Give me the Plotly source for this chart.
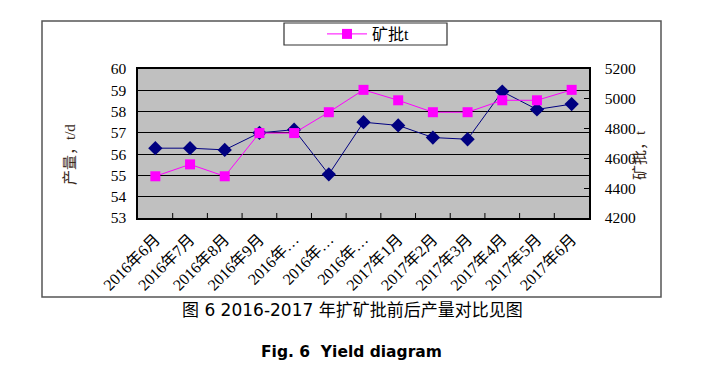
import plotly.graph_objects as go

months = ["2016年6月", "2016年7月", "2016年8月", "2016年9月", "2016年…", "2016年…", "2016年…",
          "2017年1月", "2017年2月", "2017年3月", "2017年4月", "2017年5月", "2017年6月"]
cat_ids = list(range(len(months)))
output_td = [56.28, 56.28, 56.2, 57.0, 57.15, 55.05, 57.5, 57.35, 56.78, 56.7, 58.94, 58.1, 58.35]
ore_batch_t = [4480, 4560, 4480, 4770, 4770, 4910, 5060, 4990, 4910, 4910, 4990, 4990, 5060]

left_ticks = [53, 54, 55, 56, 57, 58, 59, 60]
right_ticks = [4200, 4400, 4600, 4800, 5000, 5200]

SERIF = "Liberation Serif, Noto Sans CJK SC, serif"

# the page body adds an 8px margin; target pixel coordinates are given for the screenshot
OFF = 8
W, H = 710, 375
# plot area in screenshot pixels: x 138..589, y 69..218
L, R, T, B = 138 - OFF, 589 - OFF, 69 - OFF, 218 - OFF
pw, ph = R - L, B - T

def px(x):
    return (x - OFF - L) / pw

def py(y):
    return (B - (y - OFF)) / ph

fig = go.Figure()
fig.add_trace(go.Scatter(
    x=cat_ids, y=output_td, mode="lines+markers", name="产量",
    line=dict(color="#000080", width=1),
    marker=dict(symbol="diamond", size=11, color="#000080"),
    showlegend=False, yaxis="y"))
fig.add_trace(go.Scatter(
    x=cat_ids, y=ore_batch_t, mode="lines+markers", name="矿批t",
    line=dict(color="#FF00FF", width=1),
    marker=dict(symbol="square", size=10, color="#FF00FF"),
    yaxis="y2"))

fig.update_layout(
    width=W, height=H,
    margin=dict(l=L, r=W - R, t=T, b=H - B, autoexpand=False),
    paper_bgcolor="white", plot_bgcolor="#C0C0C0",
    font=dict(family=SERIF, size=15, color="black"),
    xaxis=dict(
        type="linear", range=[-0.5, 12.5],
        tickmode="array", tickvals=cat_ids, ticktext=months,
        tickangle=-45, showgrid=False, zeroline=False,
        showline=True, linecolor="black", linewidth=1.5, mirror=True,
        ticks="", ticklabelstandoff=4, tickfont=dict(family=SERIF, size=16)),
    yaxis=dict(
        range=[53, 60], tickmode="array", tickvals=left_ticks,
        showgrid=True, gridcolor="black", gridwidth=1, zeroline=False,
        showline=True, linecolor="black", linewidth=1.5,
        ticks="", ticklabelstandoff=7, tickfont=dict(family=SERIF, size=15.5)),
    yaxis2=dict(
        range=[4200, 5200], tickmode="array", tickvals=right_ticks,
        overlaying="y", side="right", showgrid=False, zeroline=False,
        showline=True, linecolor="black", linewidth=1.5,
        ticks="inside", ticklen=5, tickcolor="black",
        ticklabelstandoff=11, tickfont=dict(family=SERIF, size=15.5)),
    legend=dict(
        x=px(322), y=py(34), xanchor="left", yanchor="middle",
        orientation="h", borderwidth=0,
        bgcolor="rgba(0,0,0,0)", font=dict(family=SERIF, size=16),
        itemwidth=40),
    showlegend=True,
)

# legend frame
fig.add_shape(type="rect", xref="paper", yref="paper",
              x0=px(284), x1=px(447), y0=py(45), y1=py(23),
              line=dict(color="#333333", width=1.2), fillcolor="white", layer="below")

# category boundary ticks (inside, pointing up) on the x axis
for b in range(1, len(months)):
    fig.add_shape(type="line", xref="x", yref="paper",
                  x0=b - 0.5, x1=b - 0.5, y0=0, y1=5 / ph,
                  line=dict(color="black", width=1))

# outer chart frame
fig.add_shape(type="rect", xref="paper", yref="paper",
              x0=px(42), x1=px(661), y0=py(297), y1=py(21),
              line=dict(color="#555555", width=1.5), layer="below")

# axis titles
fig.add_annotation(text="产量，t/d", xref="paper", yref="paper",
                   x=px(70), y=py(155), xanchor="center", yanchor="middle",
                   textangle=-90, showarrow=False,
                   font=dict(family=SERIF, size=15, color="#3a2a1a"))
fig.add_annotation(text="矿批，t", xref="paper", yref="paper",
                   x=px(640), y=py(155), xanchor="center", yanchor="middle",
                   textangle=-90, showarrow=False,
                   font=dict(family=SERIF, size=15, color="#3a2a1a"))

# captions
fig.add_annotation(text="图 6 2016-2017 年扩矿批前后产量对比见图", xref="paper", yref="paper",
                   x=px(352), y=py(309.5), xanchor="center", yanchor="middle", showarrow=False,
                   font=dict(family="DejaVu Sans, Noto Sans CJK SC, sans-serif", size=17, color="black"))
fig.add_annotation(text="<b>Fig. 6  Yield diagram</b>", xref="paper", yref="paper",
                   x=px(351), y=py(352), xanchor="center", yanchor="middle", showarrow=False,
                   font=dict(family="DejaVu Sans, sans-serif", size=15.5, color="black"))

fig.write_html("out.html")
